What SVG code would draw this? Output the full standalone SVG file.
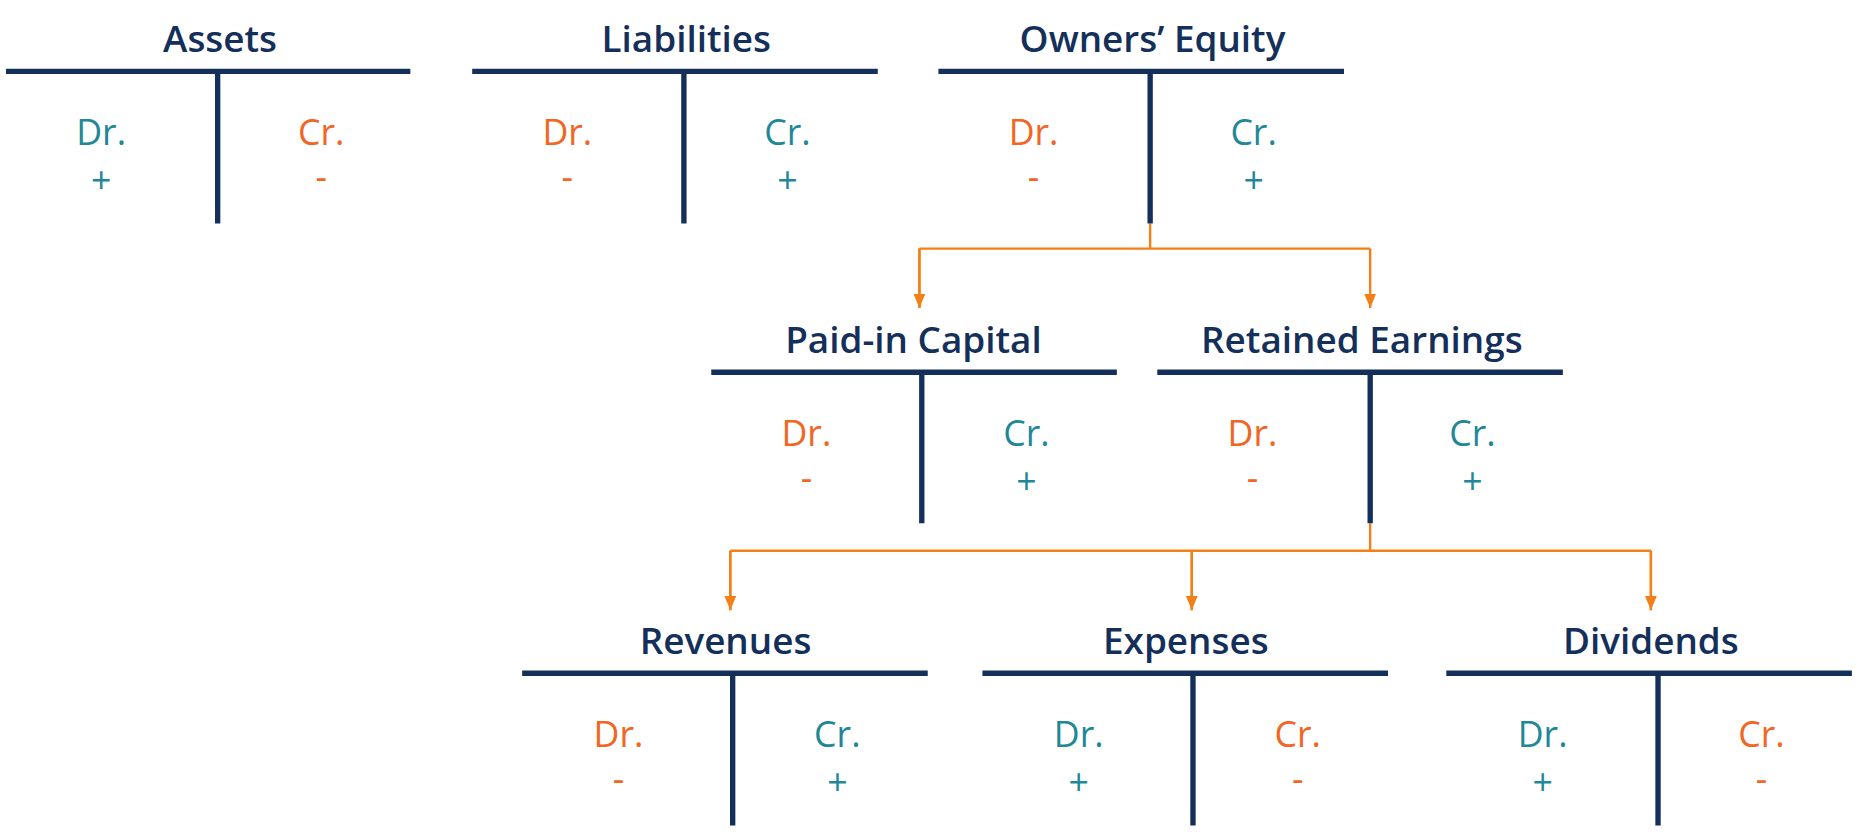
<svg xmlns="http://www.w3.org/2000/svg" width="1865" height="834" viewBox="0 0 1865 834">
<style>
.b{stroke:#14305a;stroke-width:4.5;fill:none}
.c{stroke:#f57f17;stroke-width:2;fill:none}
text{font-family:"Open Sans","Noto Sans",sans-serif;text-anchor:middle;font-weight:600}
.t{font-size:31px;fill:#14305a}
.l{font-size:30px;font-weight:500}
.s{font-size:30px;font-weight:500}
.g{fill:#1f8797}.o{fill:#f26522}
</style>
<defs><marker id="a" viewBox="0 0 10 10" refX="5" refY="10" markerWidth="10" markerHeight="11" markerUnits="userSpaceOnUse" orient="auto-start-reverse"><path d="M0 0L10 0L5 10Z" fill="#f57f17" transform="rotate(-90 5 5)"/></marker>
<marker id="d" viewBox="0 0 10 12" refX="5" refY="12" markerWidth="10" markerHeight="12" markerUnits="userSpaceOnUse"><path d="M0 0L10 0L5 12Z" fill="#f57f17"/></marker></defs>
<rect width="1865" height="834" fill="#fff"/>
<g transform="scale(1.1894)">
<g id="connectors">
<path class="c" d="M967 188V209M773 209H1152M773 209V259M1152 209V259" marker-end="url(#d)"/>
<path class="c" d="M773 209V259" marker-end="url(#d)"/>
<path class="c" d="M1152 440V463M614 463H1388M614 463V513M1002 463V513M1388 463V513"/>
<path class="c" d="M614 463V513" marker-end="url(#d)"/><path class="c" d="M1002 463V513" marker-end="url(#d)"/><path class="c" d="M1388 463V513" marker-end="url(#d)"/>
</g>
<g id="assets" transform="translate(5,60)"><path class="b" d="M0 0H340M178 0V128"/><text class="t" x="180" y="-16">Assets</text><text class="l g" x="80" y="62">Dr.</text><text class="s g" x="80" y="102">+</text><text class="l o" x="265" y="62">Cr.</text><text class="s o" x="265" y="100">-</text></g>
<g id="liabilities" transform="translate(397,60)"><path class="b" d="M0 0H341M178 0V128"/><text class="t" x="180" y="-16">Liabilities</text><text class="l o" x="80" y="62">Dr.</text><text class="s o" x="80" y="100">-</text><text class="l g" x="265" y="62">Cr.</text><text class="s g" x="265" y="102">+</text></g>
<g id="equity" transform="translate(789,60)"><path class="b" d="M0 0H341M178 0V128"/><text class="t" x="180" y="-16">Owners’ Equity</text><text class="l o" x="80" y="62">Dr.</text><text class="s o" x="80" y="100">-</text><text class="l g" x="265" y="62">Cr.</text><text class="s g" x="265" y="102">+</text></g>
<g id="paidin" transform="translate(598,313)"><path class="b" d="M0 0H341M177 0V127"/><text class="t" x="170" y="-16">Paid-in Capital</text><text class="l o" x="80" y="62">Dr.</text><text class="s o" x="80" y="100">-</text><text class="l g" x="265" y="62">Cr.</text><text class="s g" x="265" y="102">+</text></g>
<g id="retained" transform="translate(973,313)"><path class="b" d="M0 0H341M179 0V127"/><text class="t" x="172" y="-16">Retained Earnings</text><text class="l o" x="80" y="62">Dr.</text><text class="s o" x="80" y="100">-</text><text class="l g" x="265" y="62">Cr.</text><text class="s g" x="265" y="102">+</text></g>
<g id="revenues" transform="translate(439,566)"><path class="b" d="M0 0H341M177 0V128"/><text class="t" x="171" y="-16">Revenues</text><text class="l o" x="81" y="62">Dr.</text><text class="s o" x="81" y="100">-</text><text class="l g" x="265" y="62">Cr.</text><text class="s g" x="265" y="102">+</text></g>
<g id="expenses" transform="translate(826,566)"><path class="b" d="M0 0H341M177 0V128"/><text class="t" x="171" y="-16">Expenses</text><text class="l g" x="81" y="62">Dr.</text><text class="s g" x="81" y="102">+</text><text class="l o" x="265" y="62">Cr.</text><text class="s o" x="265" y="100">-</text></g>
<g id="dividends" transform="translate(1216,566)"><path class="b" d="M0 0H341M178 0V128"/><text class="t" x="172" y="-16">Dividends</text><text class="l g" x="81" y="62">Dr.</text><text class="s g" x="81" y="102">+</text><text class="l o" x="265" y="62">Cr.</text><text class="s o" x="265" y="100">-</text></g>
</g>
</svg>
